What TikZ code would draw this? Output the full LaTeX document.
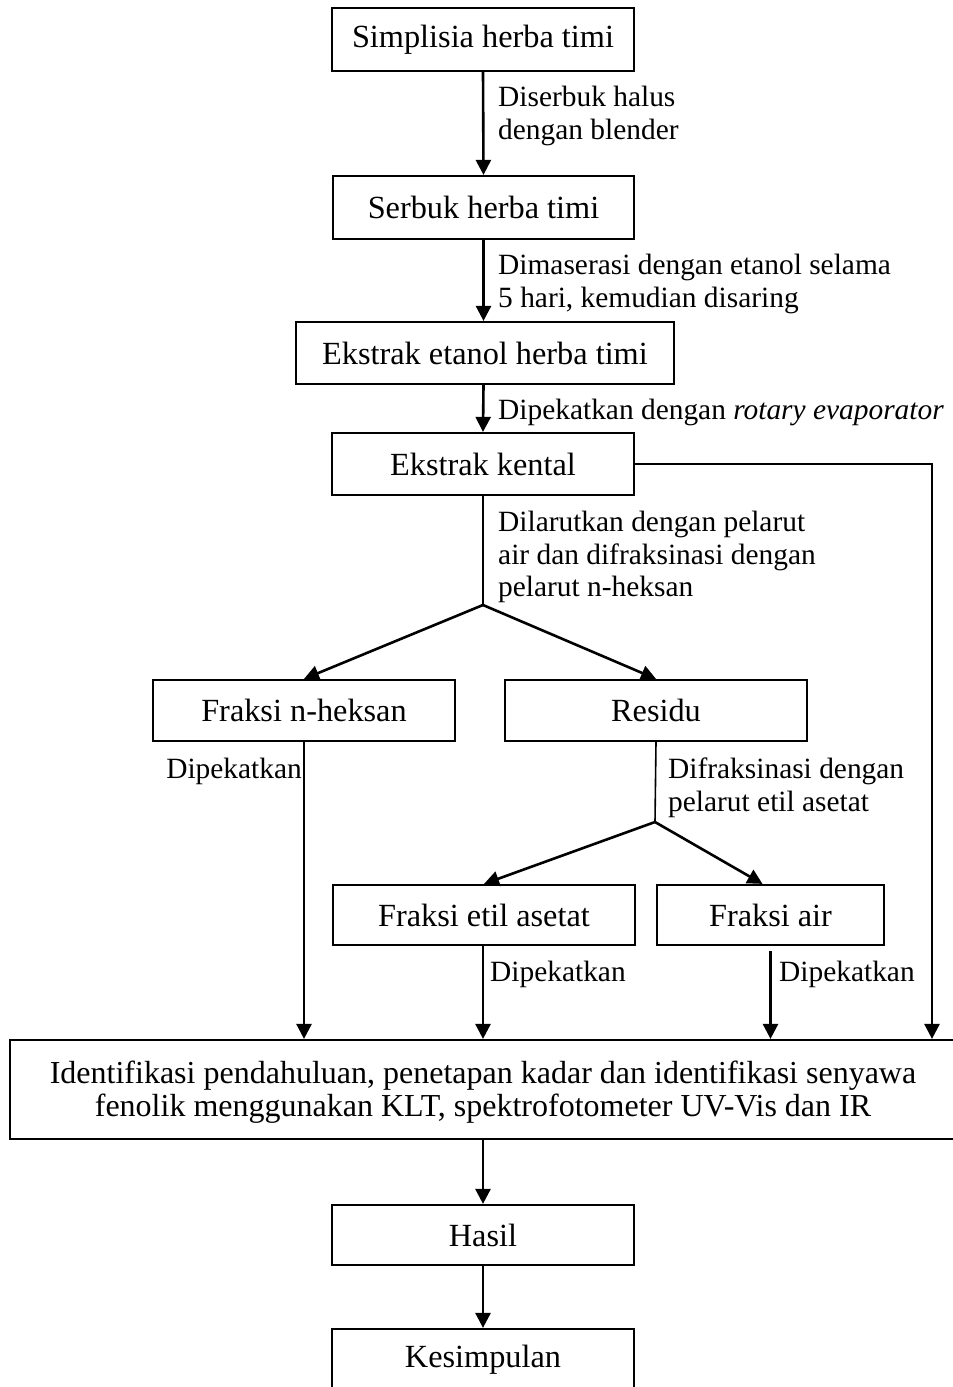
\documentclass[tikz,border=0pt]{standalone}
\usepackage{fontspec}
\setmainfont{Liberation Serif}
\usetikzlibrary{arrows.meta}
\begin{document}
\begin{tikzpicture}[x=1pt,y=-1pt,
  box/.style={draw,line width=2.2pt,inner sep=0pt,align=center,font=\fontsize{32.3}{33}\selectfont},
  lab/.style={inner sep=0pt,align=left,font=\fontsize{29.4}{32.5}\selectfont},
  arr/.style={line width=2.6pt,-{Triangle[length=15pt,width=15pt]}},
  ln/.style={line width=1.6pt}]
\clip (0,0) rectangle (953,1387);
\fill[white] (0,0) rectangle (953,1387);
% boxes
\node[box,minimum width=302pt,minimum height=63pt] (b1) at (483,39.5) {Simplisia herba timi};
\node[box,minimum width=301pt,minimum height=63pt] (b2) at (483.5,207.5) {Serbuk herba timi};
\node[box,minimum width=378pt,minimum height=62pt] (b3) at (485,353) {Ekstrak etanol herba timi};
\node[box,minimum width=302pt,minimum height=62pt] (b4) at (483,464) {Ekstrak kental};
\node[box,minimum width=302pt,minimum height=61pt] (b5) at (304,710.5) {Fraksi n-heksan};
\node[box,minimum width=302pt,minimum height=61pt] (b6) at (656,710.5) {Residu};
\node[box,minimum width=302pt,minimum height=60pt] (b7) at (484,915) {Fraksi etil asetat};
\node[box,minimum width=227pt,minimum height=60pt] (b8) at (770.5,915) {Fraksi air};
\node[box,minimum width=946pt,minimum height=99pt] (big) at (483,1089.5) {};
\node[inner sep=0pt,align=center,font=\fontsize{32}{33}\selectfont] (bigt) at (483,1092) {Identifikasi pendahuluan, penetapan kadar dan identifikasi senyawa\\fenolik menggunakan KLT, spektrofotometer UV-Vis dan IR};
\node[box,minimum width=302pt,minimum height=60pt] (b9) at (483,1235) {Hasil};
\node[box,minimum width=302pt,minimum height=62pt] (b10) at (483,1360) {Kesimpulan};
% labels
\node[lab,anchor=north west] (l1) at (498,86) {Diserbuk halus\\dengan blender};
\node[lab,anchor=north west] (l2) at (498,254) {Dimaserasi dengan etanol selama\\5 hari, kemudian disaring};
\node[lab,anchor=north west] (l3) at (498,399) {Dipekatkan dengan \textit{rotary evaporator}};
\node[lab,anchor=north west] (l4) at (498,511) {Dilarutkan dengan pelarut\\air dan difraksinasi dengan\\pelarut n-heksan};
\node[lab,anchor=north east] (l5) at (302,758) {Dipekatkan};
\node[lab,anchor=north west] (l6) at (668,758) {Difraksinasi dengan\\pelarut etil asetat};
\node[lab,anchor=north west] (l7) at (490,961) {Dipekatkan};
\node[lab,anchor=north west] (l8) at (779,961) {Dipekatkan};
% connectors
\coordinate (rx) at (932,464);
\coordinate (br1) at (483,605);
\coordinate (br2) at (655,822);
\draw[arr] (b1.south) -- (b2.north);
\draw[arr] (b2.south) -- (b2.south |- b3.north);
\draw[arr] (b2.south |- b3.south) -- (b4.north);
\draw[arr] (b4.east) -- (rx) -- (rx |- big.north);
\draw[ln] (b4.south) -- (br1);
\draw[arr] (br1) -- (b5.north);
\draw[arr] (br1) -- (b6.north);
\draw[arr] (b5.south) -- (b5.south |- big.north);
\draw[ln] (b6.south) -- (br2);
\draw[arr] (br2) -- (b7.north);
\draw[arr] (br2) -- ([xshift=-8pt]b8.north);
\draw[arr] (b7.south -| 483,0) -- (big.north -| 483,0);
\draw[arr] ([yshift=-5pt]b8.south) -- (b8.south |- big.north);
\draw[arr] (big.south) -- (b9.north);
\draw[arr] (b9.south) -- (b10.north);
\end{tikzpicture}
\end{document}
